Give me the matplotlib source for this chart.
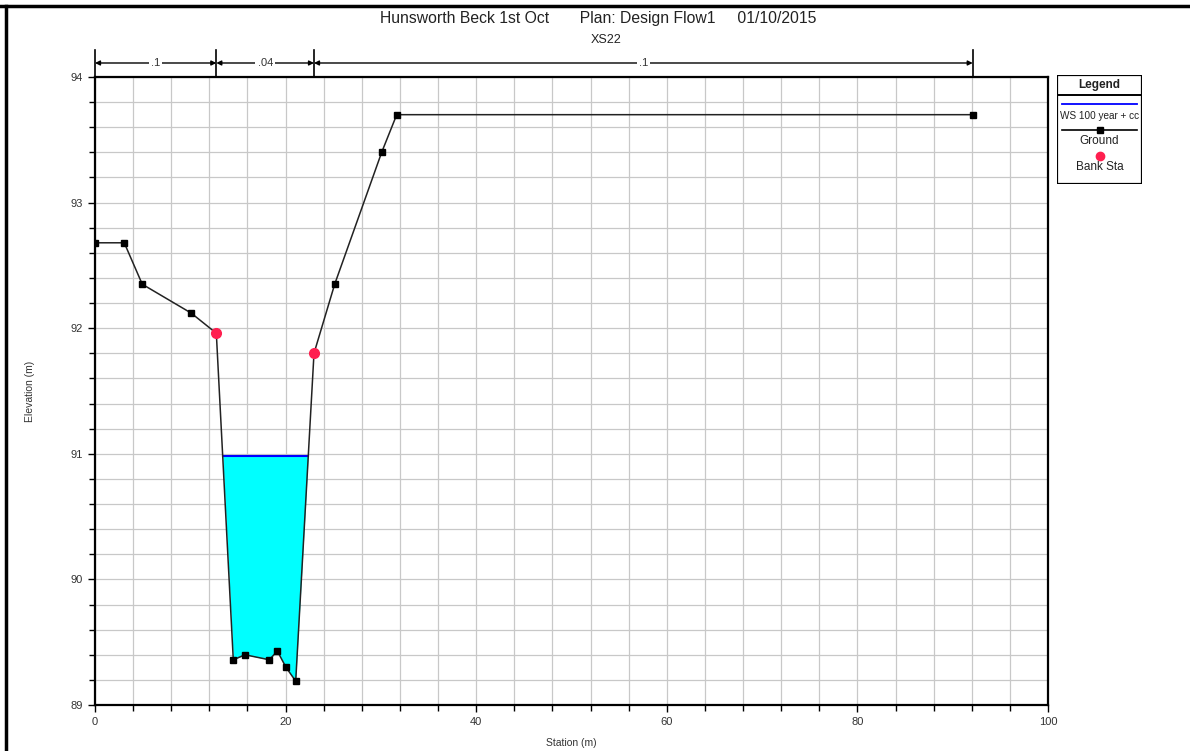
import matplotlib
matplotlib.use("Agg")
import matplotlib.pyplot as plt
import numpy as np
from matplotlib.lines import Line2D
from matplotlib.patches import Rectangle
from matplotlib.ticker import MultipleLocator

plt.rcParams["font.family"] = ["Liberation Sans", "DejaVu Sans"]

# ground profile (station m, elevation m)
station = [0.0, 3.07, 4.96, 10.1, 12.73, 14.51, 15.74, 18.29, 19.13, 20.04,
           21.06, 22.98, 25.15, 30.08, 31.66, 92.1]
elevation = [92.68, 92.68, 92.35, 92.12, 91.96, 89.36, 89.40, 89.36, 89.43,
             89.30, 89.19, 91.80, 92.35, 93.40, 93.70, 93.70]

bank_station = [12.73, 22.98]
bank_elev = [91.96, 91.80]

ws_elev = 90.98

# manning's n zones
n_breaks = [0.0, 12.73, 22.98, 92.1]
n_values = [".1", ".04", ".1"]

title = "Hunsworth Beck 1st Oct       Plan: Design Flow1     01/10/2015"
subtitle = "XS22"

fig = plt.figure(figsize=(11.9, 7.51), dpi=100)
ax = fig.add_axes([95 / 1190, 1 - 705 / 751, 953 / 1190, 628 / 751])

x = np.array(station)
g = np.array(elevation)

ax.fill_between(x, g, ws_elev, where=g < ws_elev, interpolate=True,
                color="#00ffff", linewidth=0, zorder=2)

# water surface line across the wet section
wet = np.where(g < ws_elev)[0]
i0, i1 = wet[0], wet[-1]
xl = x[i0 - 1] + (ws_elev - g[i0 - 1]) * (x[i0] - x[i0 - 1]) / (g[i0] - g[i0 - 1])
xr = x[i1] + (ws_elev - g[i1]) * (x[i1 + 1] - x[i1]) / (g[i1 + 1] - g[i1])
ax.plot([xl, xr], [ws_elev, ws_elev], color="#0000ff", lw=1.5, zorder=3)

ax.plot(station, elevation, color="#222222", lw=1.1, marker="s", ms=4.5,
        mfc="black", mec="black", zorder=4)
ax.plot(bank_station, bank_elev, "o", color="#ff1f4f", ms=7, mec="#ff1f4f",
        zorder=5)

ax.set_xlim(0, 100)
ax.set_ylim(89, 94)
ax.xaxis.set_major_locator(MultipleLocator(20))
ax.xaxis.set_minor_locator(MultipleLocator(4))
ax.yaxis.set_major_locator(MultipleLocator(1))
ax.yaxis.set_minor_locator(MultipleLocator(0.2))
ax.grid(True, which="both", color="#c8c8c8", lw=0.9, zorder=0)
ax.set_axisbelow(True)
ax.tick_params(which="both", direction="out", labelsize=8,
               labelcolor="#333333", width=1)
ax.tick_params(which="major", length=5)
ax.tick_params(which="minor", length=4)
for s in ax.spines.values():
    s.set_linewidth(1.6)

ax.set_xlabel("Station (m)", fontsize=7.5, color="#333333", labelpad=8)
ax.set_ylabel("Elevation (m)", fontsize=7.5, color="#333333", labelpad=26)

# manning's n bar above the plot
trans = ax.get_xaxis_transform()
ybar = 1.0223
for xb in n_breaks:
    ax.plot([xb, xb], [1.0, 1.043], transform=trans, color="black", lw=1.2,
            clip_on=False)
for k, label in enumerate(n_values):
    a, b = n_breaks[k], n_breaks[k + 1]
    ax.annotate("", xy=(a, ybar), xytext=(b, ybar), xycoords=trans,
                textcoords=trans,
                arrowprops=dict(arrowstyle="<|-|>", color="black", lw=1,
                                mutation_scale=7, shrinkA=0, shrinkB=0))
    ax.text((a + b) / 2, ybar, label, transform=trans, ha="center",
            va="center", fontsize=8, color="#333333",
            bbox=dict(fc="white", ec="none", pad=1.5), clip_on=False)

fig.text(598 / 1190, 1 - 18 / 751, title, ha="center", va="center",
         fontsize=11.3, color="#222222")
fig.text(606 / 1190, 1 - 40 / 751, subtitle, ha="center", va="center",
         fontsize=9, color="#222222")

# legend box
lg = fig.add_axes([1057 / 1190, 1 - 184 / 751, 85 / 1190, 109 / 751])
lg.set_xlim(0, 85)
lg.set_ylim(109, 0)
lg.axis("off")
lg.add_patch(Rectangle((0, 0), 85, 109, fill=False, ec="black", lw=1.6))
lg.plot([0, 85], [20, 20], color="black", lw=1.4)
lg.text(42.5, 10, "Legend", ha="center", va="center", fontsize=8.5,
        fontweight="bold", color="#222222")
lg.plot([5, 80], [29, 29], color="#0000ff", lw=1.3)
lg.text(42.5, 41, "WS 100 year + cc", ha="center", va="center", fontsize=7.2,
        color="#222222")
lg.plot([5, 80], [55, 55], color="black", lw=1.2)
lg.plot([42.5], [55], "s", color="black", ms=4)
lg.text(42.5, 66, "Ground", ha="center", va="center", fontsize=8.5,
        color="#222222")
lg.plot([42.5], [81], "o", color="#ff1f4f", ms=6)
lg.text(42.5, 92, "Bank Sta", ha="center", va="center", fontsize=8.5,
        color="#222222")

# outer frame lines of the source page
fig.add_artist(Line2D([0, 1], [1 - 6 / 751, 1 - 6 / 751], color="black",
                      lw=2.5, transform=fig.transFigure))
fig.add_artist(Line2D([6 / 1190, 6 / 1190], [0, 1 - 6 / 751], color="black",
                      lw=2.5, transform=fig.transFigure))

fig.savefig("out.png", dpi=100)
